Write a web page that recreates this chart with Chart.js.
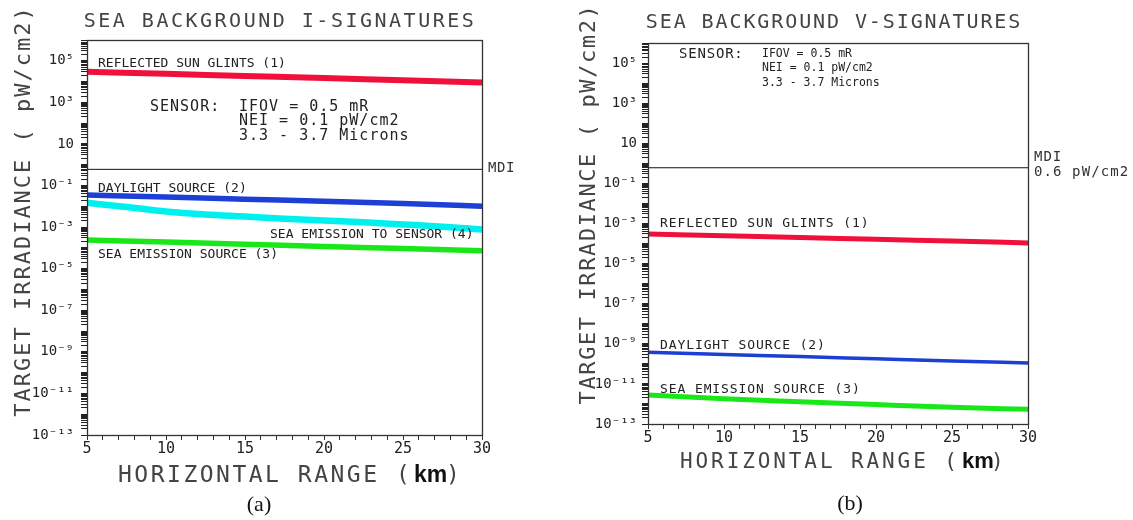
<!DOCTYPE html>
<html>
<head>
<meta charset="utf-8">
<script src="https://cdn.jsdelivr.net/npm/chart.js"></script>
<style>
  body { margin: 0; background: #fff; width: 1133px; height: 520px; overflow: hidden; position: relative; }
  #chartA { position: absolute; left: 0; top: 0; }
  #chartB { position: absolute; left: 560px; top: 0; }
</style>
</head>
<body>
<canvas id="chartA" width="560" height="520"></canvas>
<canvas id="chartB" width="573" height="520"></canvas>
<script>
// horizontal range (km)
var rangeKm = [5, 10, 15, 20, 25, 30];
var rangeKmFine = [5, 7.5, 10, 12.5, 15, 17.5, 20, 22.5, 25, 27.5, 30];

// (a) I-signatures, target irradiance in pW/cm2
var iSunGlints = [2.95e4, 2.35e4, 1.86e4, 1.48e4, 1.15e4, 9.1e3];
var iDaylight = [3.5e-2, 2.8e-2, 2.2e-2, 1.74e-2, 1.35e-2, 1.02e-2];
var iSeaToSensor = [1.48e-2, 9.3e-3, 5.6e-3, 4.0e-3, 3.2e-3, 2.5e-3, 2.1e-3, 1.7e-3, 1.35e-3, 1.05e-3, 7.6e-4];
var iSeaSource = [2.4e-4, 1.9e-4, 1.5e-4, 1.17e-4, 9.3e-5, 7.2e-5];

// (b) V-signatures
var vSunGlints = [3.0e-4, 2.45e-4, 2.0e-4, 1.62e-4, 1.32e-4, 1.07e-4];
var vDaylight = [3.8e-10, 2.95e-10, 2.3e-10, 1.78e-10, 1.38e-10, 1.1e-10];
var vSeaSource = [2.8e-12, 1.8e-12, 1.3e-12, 9.3e-13, 6.8e-13, 5.4e-13];

// minimum detectable irradiance
var mdiRange = [5, 30];
var mdiLevel = [0.6, 0.6];

// axis ticks
var xTickValues = [5, 10, 15, 20, 25, 30];
var yTickExps = [-13, -11, -9, -7, -5, -3, -1, 1, 3, 5];
var yTickLabels = ['10⁻¹³', '10⁻¹¹', '10⁻⁹', '10⁻⁷', '10⁻⁵', '10⁻³', '10⁻¹', '10', '10³', '10⁵'];

var MONO = "'DejaVu Sans Mono', monospace";

function pts(xs, ys) {
    return xs.map(function (x, i) { return { x: x, y: ys[i] }; });
}

function line(xs, ys, color, width) {
    return {
        data: pts(xs, ys),
        borderColor: color,
        borderWidth: width,
        pointRadius: 0,
        fill: false,
        tension: 0.3,
        cubicInterpolationMode: 'monotone'
    };
}

function drawText(ctx, t) {
    ctx.save();
    ctx.font = t.font;
    ctx.fillStyle = t.color || '#222';
    ctx.letterSpacing = (t.spacing || 0) + 'px';
    ctx.textAlign = t.align || 'left';
    ctx.textBaseline = 'alphabetic';
    ctx.translate(t.x, t.y);
    if (t.rotate) ctx.rotate(t.rotate);
    ctx.fillText(t.text, 0, 0);
    ctx.restore();
}

// frame round the plot + all the free text of the figure
function textPlugin(items) {
    return {
        id: 'figText',
        afterDraw: function (chart) {
            var ctx = chart.ctx;
            var a = chart.chartArea;
            ctx.save();
            ctx.strokeStyle = '#333';
            ctx.lineWidth = 1.3;
            ctx.strokeRect(Math.round(a.left) + 0.5, Math.round(a.top) + 0.5,
                Math.round(a.right - a.left), Math.round(a.bottom - a.top));
            ctx.restore();
            items.forEach(function (t) { drawText(ctx, t); });
        }
    };
}

function makeChart(id, datasets, padding, yWidth, yPad, items) {
    return new Chart(document.getElementById(id), {
        type: 'line',
        data: { datasets: datasets },
        plugins: [textPlugin(items)],
        options: {
            responsive: false,
            animation: false,
            devicePixelRatio: 1,
            layout: { padding: padding },
            plugins: { legend: { display: false }, tooltip: { enabled: false }, title: { display: false } },
            scales: {
                x: {
                    type: 'linear',
                    min: 5,
                    max: 30,
                    afterFit: function (scale) { scale.height = 25; },
                    grid: { drawOnChartArea: false, tickLength: 5, color: '#333' },
                    border: { display: false },
                    ticks: {
                        stepSize: 1,
                        autoSkip: false,
                        maxRotation: 0,
                        padding: 0,
                        color: '#222',
                        font: { family: MONO, size: 15 },
                        callback: function (v) { return xTickValues.indexOf(v) >= 0 ? String(v) : ''; }
                    }
                },
                y: {
                    type: 'logarithmic',
                    min: 1e-13,
                    max: 1e6,
                    afterFit: function (scale) { scale.width = yWidth; },
                    afterBuildTicks: function (scale) {
                        var t = [];
                        for (var e = -13; e < 6; e++) {
                            for (var m = 1; m < 10; m++) t.push({ value: m * Math.pow(10, e) });
                        }
                        t.push({ value: 1e6 });
                        scale.ticks = t;
                    },
                    grid: { drawOnChartArea: false, tickLength: 6, color: '#222' },
                    border: { display: false },
                    ticks: {
                        autoSkip: false,
                        padding: yPad,
                        color: '#222',
                        font: { family: MONO, size: 14 },
                        callback: function (value) {
                            var e = Math.round(Math.log10(value));
                            var p = Math.pow(10, e);
                            if (Math.abs(value - p) > p * 1e-6) return '';
                            var i = yTickExps.indexOf(e);
                            return i < 0 ? '' : yTickLabels[i];
                        }
                    }
                }
            }
        }
    });
}

// ---- (a) SEA BACKGROUND I-SIGNATURES
makeChart('chartA', [
    line(mdiRange, mdiLevel, '#111', 1),
    line(rangeKm, iSunGlints, '#f0103c', 6),
    line(rangeKm, iDaylight, '#1c3fd6', 5.5),
    line(rangeKmFine, iSeaToSensor, '#00f0f0', 6.5),
    line(rangeKm, iSeaSource, '#18e818', 5.5)
], { left: 0, right: 78, top: 40, bottom: 60 }, 87, 7, [
    { text: 'SEA BACKGROUND I-SIGNATURES', x: 280, y: 27, font: '20px ' + MONO, spacing: 2.5, align: 'center', color: '#444' },
    { text: 'TARGET IRRADIANCE ( pW/cm2)', x: 30, y: 211, font: '22px ' + MONO, spacing: 2, align: 'center', rotate: -Math.PI / 2, color: '#444' },
    { text: 'HORIZONTAL RANGE (', x: 118, y: 482, font: '23px ' + MONO, spacing: 2.5, color: '#444' },
    { text: 'km', x: 414, y: 482, font: 'bold 23px "Liberation Sans", Arial, sans-serif', color: '#111' },
    { text: ')', x: 446, y: 482, font: '23px ' + MONO, color: '#444' },
    { text: '(a)', x: 259, y: 511, font: '22px "Liberation Serif", "Times New Roman", serif', align: 'center', color: '#111' },
    { text: 'REFLECTED SUN GLINTS (1)', x: 98, y: 67, font: '13px ' + MONO },
    { text: 'SENSOR:', x: 150, y: 111, font: '15px ' + MONO, spacing: 1 },
    { text: 'IFOV = 0.5 mR', x: 239, y: 111, font: '15px ' + MONO, spacing: 1 },
    { text: 'NEI = 0.1 pW/cm2', x: 239, y: 125, font: '15px ' + MONO, spacing: 1 },
    { text: '3.3 - 3.7 Microns', x: 239, y: 140, font: '15px ' + MONO, spacing: 1 },
    { text: 'MDI', x: 488, y: 172, font: '14px ' + MONO, spacing: 0.6, color: '#333' },
    { text: 'DAYLIGHT SOURCE (2)', x: 98, y: 192, font: '13px ' + MONO },
    { text: 'SEA EMISSION TO SENSOR (4)', x: 270, y: 238, font: '13px ' + MONO },
    { text: 'SEA EMISSION SOURCE (3)', x: 98, y: 258, font: '13px ' + MONO }
]);

// ---- (b) SEA BACKGROUND V-SIGNATURES
makeChart('chartB', [
    line(mdiRange, mdiLevel, '#111', 1),
    line(rangeKm, vSunGlints, '#f0103c', 5),
    line(rangeKm, vDaylight, '#1c3fd6', 3.5),
    line(rangeKm, vSeaSource, '#18e818', 5)
], { left: 0, right: 105, top: 43, bottom: 71 }, 88, 5, [
    { text: 'SEA BACKGROUND V-SIGNATURES', x: 274, y: 28, font: '20px ' + MONO, spacing: 1.9, align: 'center', color: '#444' },
    { text: 'TARGET IRRADIANCE ( pW/cm2)', x: 35, y: 204, font: '22px ' + MONO, spacing: 1.6, align: 'center', rotate: -Math.PI / 2, color: '#444' },
    { text: 'HORIZONTAL RANGE (', x: 120, y: 468, font: '21px ' + MONO, spacing: 2.9, color: '#444' },
    { text: 'km', x: 402, y: 468, font: 'bold 22px "Liberation Sans", Arial, sans-serif', color: '#111' },
    { text: ')', x: 431, y: 468, font: '21px ' + MONO, color: '#444' },
    { text: '(b)', x: 290, y: 510, font: '22px "Liberation Serif", "Times New Roman", serif', align: 'center', color: '#111' },
    { text: 'SENSOR:', x: 119, y: 58, font: '14px ' + MONO, spacing: 0.8 },
    { text: 'IFOV = 0.5 mR', x: 202, y: 57, font: '11.5px ' + MONO },
    { text: 'NEI = 0.1 pW/cm2', x: 202, y: 71, font: '11.5px ' + MONO },
    { text: '3.3 - 3.7 Microns', x: 202, y: 86, font: '11.5px ' + MONO },
    { text: 'MDI', x: 474, y: 161, font: '14px ' + MONO, spacing: 1, color: '#333' },
    { text: '0.6 pW/cm2', x: 474, y: 176, font: '14px ' + MONO, spacing: 1.1, color: '#333' },
    { text: 'REFLECTED SUN GLINTS (1)', x: 100, y: 227, font: '13px ' + MONO, spacing: 0.9 },
    { text: 'DAYLIGHT SOURCE (2)', x: 100, y: 349, font: '13px ' + MONO, spacing: 0.9 },
    { text: 'SEA EMISSION SOURCE (3)', x: 100, y: 393, font: '13px ' + MONO, spacing: 0.9 }
]);
</script>
</body>
</html>
